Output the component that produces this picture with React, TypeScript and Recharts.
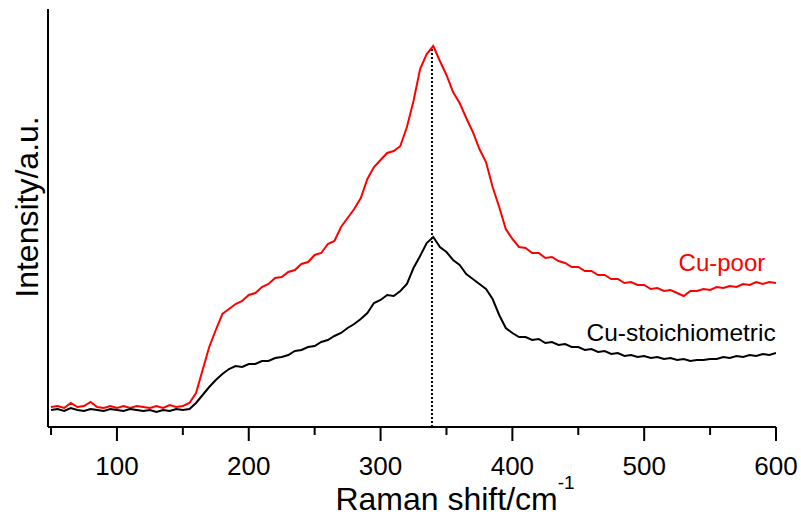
import React from 'react';
import { LineChart, Line, XAxis, YAxis, ReferenceLine, ReferenceDot } from 'recharts';

// Raman shift (cm-1) sampled every 5 cm-1
const shift = [
  50, 55, 60, 65, 70, 75, 80, 85, 90, 95,
  100, 105, 110, 115, 120, 125, 130, 135, 140, 145,
  150, 155, 160, 165, 170, 175, 180, 185, 190, 195,
  200, 205, 210, 215, 220, 225, 230, 235, 240, 245,
  250, 255, 260, 265, 270, 275, 280, 285, 290, 295,
  300, 305, 310, 315, 320, 325, 330, 335, 340, 345,
  350, 355, 360, 365, 370, 375, 380, 385, 390, 395,
  400, 405, 410, 415, 420, 425, 430, 435, 440, 445,
  450, 455, 460, 465, 470, 475, 480, 485, 490, 495,
  500, 505, 510, 515, 520, 525, 530, 535, 540, 545,
  550, 555, 560, 565, 570, 575, 580, 585, 590, 595,
  600,
];

// intensity, arbitrary units
const cuPoor = [
  20, 21, 19, 24, 20, 21, 25, 20, 19, 21,
  19, 21, 19, 21, 20, 19, 21, 19, 22, 20,
  21, 24, 34, 57, 80, 97, 113, 118, 123, 126,
  132, 134, 140, 143, 149, 150, 155, 157, 163, 165,
  172, 174, 183, 186, 200, 209, 218, 229, 248, 260,
  267, 274, 276, 281, 300, 326, 358, 373, 381, 366,
  352, 335, 324, 309, 295, 278, 265, 240, 220, 198,
  188, 180, 179, 174, 174, 169, 170, 166, 164, 160,
  160, 156, 156, 152, 152, 148, 148, 144, 145, 142,
  142, 138, 139, 136, 137, 134, 131, 136, 136, 138,
  137, 140, 139, 141, 140, 143, 142, 145, 143, 145,
  144,
];

const cuStoich = [
  17, 18, 16, 19, 17, 16, 18, 17, 16, 18,
  17, 16, 18, 17, 16, 17, 15, 17, 16, 18,
  17, 18, 24, 32, 40, 47, 53, 58, 61, 60,
  63, 63, 66, 66, 69, 70, 72, 76, 77, 80,
  81, 85, 87, 91, 94, 99, 103, 108, 114, 124,
  127, 132, 131, 136, 143, 159, 171, 184, 190, 180,
  175, 167, 162, 153, 148, 143, 138, 128, 112, 99,
  94, 90, 90, 87, 88, 84, 85, 82, 83, 80,
  80, 77, 78, 75, 76, 73, 74, 71, 72, 70,
  71, 69, 70, 68, 69, 67, 68, 66, 67, 67,
  68, 68, 70, 69, 71, 70, 72, 71, 73, 72,
  74,
];

const xTicks = [50, 100, 150, 200, 250, 300, 350, 400, 450, 500, 550, 600];
const peakShift = 339;
const peakTop = 378;

const data = shift.map((s, i) => ({ shift: s, poor: cuPoor[i], stoich: cuStoich[i] }));

const FONT = '"Liberation Sans", Arial, Helvetica, sans-serif';

const XTick = (props: any) => {
  const { x, y, payload } = props;
  const major = payload.value % 100 === 0;
  return (
    <g>
      <line x1={x} x2={x} y1={y} y2={y + (major ? 14 : 8)} stroke="#000" strokeWidth={2} />
      {major && (
        <text x={x} y={y + 48} textAnchor="middle" fontSize={26} fontFamily={FONT} fill="#000">
          {payload.value}
        </text>
      )}
    </g>
  );
};

const XTitle = (props: any) => {
  const { viewBox } = props;
  const cx = viewBox.x + viewBox.width / 2 + 43;
  return (
    <text x={cx} y={viewBox.y + 83} textAnchor="middle" fontSize={32} fontFamily={FONT} fill="#000">
      Raman shift/cm
      <tspan fontSize={19} dy={-21}>-1</tspan>
    </text>
  );
};

const YTitle = (props: any) => {
  const { viewBox } = props;
  // baseline sits just left of the axis line
  const x = viewBox.x + 38;
  const y = viewBox.y + viewBox.height / 2 - 11;
  return (
    <text
      x={x}
      y={y}
      transform={`rotate(-90, ${x}, ${y})`}
      textAnchor="middle"
      fontSize={32}
      fontFamily={FONT}
      fill="#000"
    >
      Intensity/a.u.
    </text>
  );
};

export default function App() {
  return (
    <div style={{ position: 'absolute', left: 0, top: 0, background: '#fff' }}>
      <LineChart width={801} height={516} data={data} margin={{ top: 9, right: 25, left: 0, bottom: 0 }}>
        <XAxis
          dataKey="shift"
          type="number"
          domain={[47.7, 600]}
          ticks={xTicks}
          interval={0}
          allowDataOverflow
          height={89}
          tickSize={0}
          tickMargin={0}
          tickLine={false}
          tick={<XTick />}
          axisLine={{ stroke: '#000', strokeWidth: 2 }}
          label={<XTitle />}
        />
        <YAxis
          type="number"
          domain={[0, 418]}
          width={48}
          tick={false}
          tickLine={false}
          axisLine={{ stroke: '#000', strokeWidth: 2 }}
          label={<YTitle />}
        />
        <ReferenceLine
          segment={[{ x: peakShift, y: 0 }, { x: peakShift, y: peakTop }]}
          stroke="#000"
          strokeWidth={2}
          strokeDasharray="2 2"
        />
        <Line type="linear" dataKey="poor" stroke="#ff0000" strokeWidth={2} dot={false} isAnimationActive={false} />
        <Line type="linear" dataKey="stoich" stroke="#000" strokeWidth={2} dot={false} isAnimationActive={false} />
        <ReferenceDot
          x={559}
          y={165}
          r={0}
          stroke="none"
          label={{ value: 'Cu-poor', position: 'center', fill: '#ff0000', fontSize: 24, fontFamily: FONT }}
        />
        <ReferenceDot
          x={528}
          y={95}
          r={0}
          stroke="none"
          label={{ value: 'Cu-stoichiometric', position: 'center', fill: '#000', fontSize: 24.5, fontFamily: FONT }}
        />
      </LineChart>
    </div>
  );
}
